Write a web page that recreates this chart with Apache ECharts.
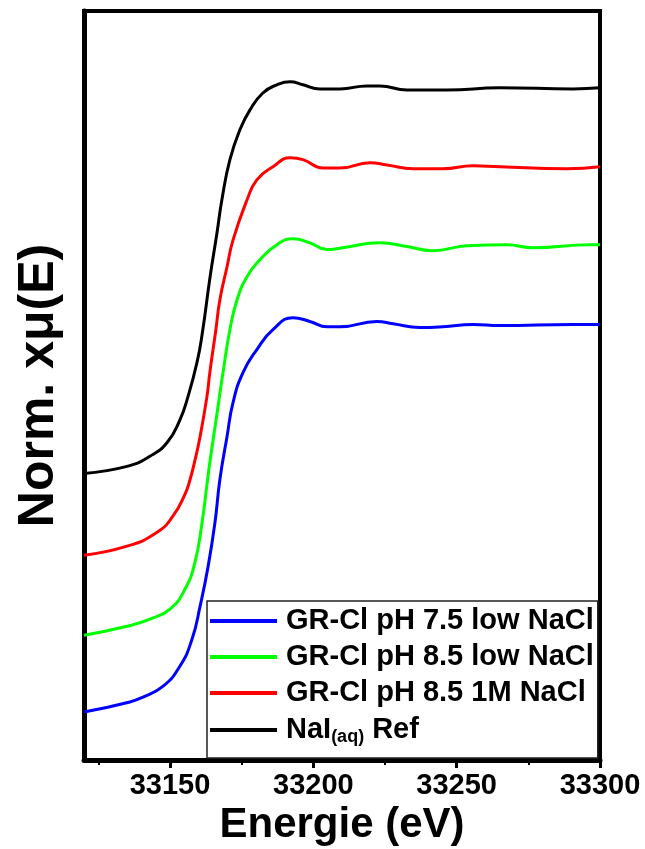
<!DOCTYPE html>
<html>
<head>
<meta charset="utf-8">
<script src="https://cdn.jsdelivr.net/npm/echarts@6/dist/echarts.min.js"></script>
<style>html,body{margin:0;padding:0;background:#fff}#c{width:645px;height:849px}</style>
</head>
<body>
<div id="c"></div>
<script>
const FONT = "'Liberation Sans', Arial, sans-serif";

const seriesNames = ['GR-Cl pH 7.5 low NaCl', 'GR-Cl pH 8.5 low NaCl', 'GR-Cl pH 8.5 1M NaCl', 'NaI(aq) Ref'];
const seriesColors = ['#0000ff', '#00ff00', '#ff0000', '#000000'];

const xTickValues = [33150, 33200, 33250, 33300];
const xMinorTickValues = [33125, 33175, 33225, 33275];

const energyBlue = [33120, 33136.0, 33140.6, 33147.6, 33153.5, 33157.7, 33160.5, 33163.3, 33165.7, 33167.4, 33169.9, 33172.0, 33175.5, 33180.3, 33185.9, 33192.9, 33198.8, 33204.8, 33209.3, 33222.2, 33227.8, 33237.2, 33245.2, 33255.7, 33265.1, 33290.6, 33300];
const muBlue = [0.128, 0.155, 0.168, 0.197, 0.251, 0.323, 0.411, 0.517, 0.635, 0.749, 0.864, 0.955, 1.035, 1.096, 1.149, 1.181, 1.171, 1.157, 1.157, 1.171, 1.165, 1.155, 1.157, 1.163, 1.160, 1.163, 1.163];

const energyGreen = [33120, 33135.0, 33143.0, 33150.0, 33155.2, 33158.7, 33161.2, 33162.9, 33163.9, 33166.4, 33168.5, 33170.9, 33173.4, 33176.9, 33181.4, 33187.3, 33192.9, 33198.8, 33204.8, 33210.3, 33223.2, 33232.7, 33241.4, 33253.6, 33267.5, 33276.6, 33296.5, 33300];
const muGreen = [0.333, 0.357, 0.376, 0.403, 0.456, 0.528, 0.635, 0.736, 0.795, 0.925, 1.035, 1.149, 1.229, 1.291, 1.336, 1.376, 1.392, 1.381, 1.363, 1.368, 1.381, 1.371, 1.360, 1.373, 1.376, 1.368, 1.376, 1.376];

const energyRed = [33120, 33135.0, 33145.5, 33151.0, 33155.2, 33157.0, 33158.7, 33160.5, 33162.9, 33163.9, 33166.0, 33167.4, 33169.9, 33172.0, 33176.9, 33180.3, 33185.9, 33191.9, 33196.4, 33203.4, 33209.3, 33219.8, 33225.7, 33234.8, 33245.2, 33255.7, 33265.1, 33288.5, 33300];
const muRed = [0.547, 0.571, 0.608, 0.651, 0.709, 0.749, 0.800, 0.864, 0.971, 1.035, 1.149, 1.229, 1.317, 1.389, 1.496, 1.549, 1.584, 1.608, 1.603, 1.581, 1.581, 1.595, 1.589, 1.579, 1.579, 1.587, 1.584, 1.579, 1.584];

const energyBlack = [33120, 33135, 33143, 33149, 33153.5, 33156.3, 33159.4, 33161.2, 33164, 33166.4, 33168.1, 33170.9, 33174.4, 33177.9, 33182.4, 33187.3, 33191.9, 33196.4, 33202.3, 33209.3, 33218.7, 33223.2, 33232.7, 33246.6, 33265, 33290.6, 33300];
const muBlack = [0.765, 0.784, 0.811, 0.848, 0.909, 0.971, 1.061, 1.136, 1.291, 1.408, 1.496, 1.603, 1.683, 1.736, 1.781, 1.803, 1.811, 1.803, 1.792, 1.792, 1.800, 1.800, 1.789, 1.789, 1.795, 1.792, 1.795];

const energies = [energyBlue, energyGreen, energyRed, energyBlack];
const mus = [muBlue, muGreen, muRed, muBlack];

function pairs(xs, ys) { return xs.map((x, i) => [x, ys[i]]); }

const chart = echarts.init(document.getElementById('c'), null, { renderer: 'canvas' });

const series = seriesNames.map((name, k) => ({
  name: name,
  type: 'line',
  data: pairs(energies[k], mus[k]),
  xAxisIndex: 0,
  yAxisIndex: 0,
  symbol: 'none',
  smooth: 0.5,
  lineStyle: { color: seriesColors[k], width: 3 },
  itemStyle: { color: seriesColors[k] },
  z: 2 + (3 - k)
}));

const option = {
  backgroundColor: '#ffffff',
  animation: false,
  textStyle: { fontFamily: FONT },
  grid: {
    left: 84, right: 45, top: 11, bottom: 89,
    show: true, borderColor: '#000', borderWidth: 4,
    containLabel: false, outerBoundsMode: 'none'
  },
  xAxis: [{
    type: 'value', min: 33120, max: 33300,
    name: 'Energie (eV)', nameLocation: 'middle', nameGap: 30,
    nameTextStyle: { fontFamily: FONT, fontWeight: 'bold', fontSize: 42, color: '#000' },
    axisLine: { show: true, lineStyle: { color: '#000', width: 5 } },
    axisTick: { show: true, inside: false, length: 8, customValues: xTickValues, lineStyle: { color: '#000', width: 3 } },
    axisLabel: { show: true, customValues: xTickValues, margin: 11, fontFamily: FONT, fontWeight: 'bold', fontSize: 29, color: '#000',
      formatter: function (v) { return String(v); } },
    splitLine: { show: false }
  }, {
    type: 'value', min: 33120, max: 33300, position: 'bottom',
    axisLine: { show: false },
    axisTick: { show: true, inside: false, length: 5, customValues: xMinorTickValues, lineStyle: { color: '#000', width: 2 } },
    axisLabel: { show: false },
    splitLine: { show: false }
  }],
  yAxis: {
    type: 'value', min: 0, max: 2,
    name: 'Norm. xμ(E)', nameLocation: 'middle', nameGap: 20,
    nameTextStyle: { fontFamily: FONT, fontWeight: 'bold', fontSize: 50, color: '#000' },
    axisLine: { show: true, lineStyle: { color: '#000', width: 5 } },
    axisTick: { show: false },
    axisLabel: { show: false },
    splitLine: { show: false }
  },
  legend: {
    show: true,
    orient: 'vertical',
    left: 207, top: 601,
    data: seriesNames,
    icon: 'rect',
    itemWidth: 67, itemHeight: 4,
    itemGap: 6,
    padding: [5, 4, 12, 3],
    backgroundColor: '#fff',
    borderColor: '#222', borderWidth: 1.5, borderRadius: 0,
    formatter: function (name) {
      if (name === 'NaI(aq) Ref') return '{n|NaI}{s|(aq)}{n| Ref}';
      return '{n|' + name + '}';
    },
    textStyle: {
      fontFamily: FONT, fontWeight: 'bold', fontSize: 29, color: '#000', lineHeight: 30,
      padding: [0, 0, 0, 4],
      rich: {
        n: { fontFamily: FONT, fontWeight: 'bold', fontSize: 29, color: '#000', lineHeight: 30 },
        s: { fontFamily: FONT, fontWeight: 'bold', fontSize: 18, color: '#000', lineHeight: 30, padding: [14, 0, 0, 0] }
      }
    }
  },
  series: series
};

chart.setOption(option);
</script>
</body>
</html>
